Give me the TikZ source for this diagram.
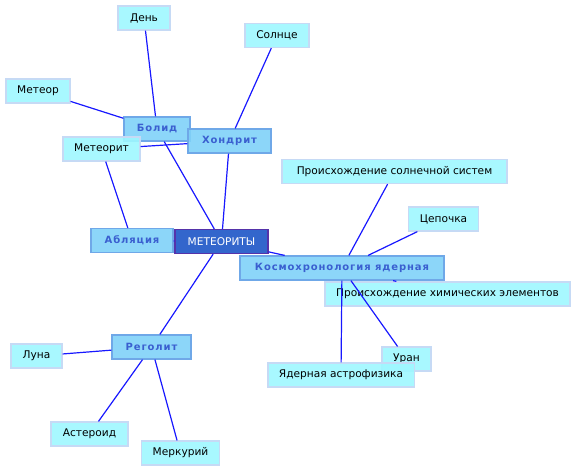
\documentclass[tikz,border=0pt]{standalone}
\usepackage{fontspec}
\setmainfont{DejaVu Sans}
\newfontfamily\spacedbold[LetterSpace=9]{DejaVu Sans Bold}
\usepackage{tikz}
\usepackage{xcolor}
\definecolor{Ink}{HTML}{000000}
\definecolor{LeafFill}{HTML}{9EF7FF}
\definecolor{LeafLine}{HTML}{C6DAF5}
\definecolor{TopicFill}{HTML}{80D2F8}
\definecolor{TopicLine}{HTML}{6FA8E8}
\definecolor{TopicText}{HTML}{3A5FD0}
\definecolor{RootFill}{HTML}{3366CC}
\definecolor{RootLine}{HTML}{5533AA}
\definecolor{Link}{HTML}{1818FF}

\begin{document}
\begin{tikzpicture}[
            x=1pt, y=-1pt,
            leaf/.style={
                rectangle,
                draw=LeafLine,
                fill=LeafFill,
                fill opacity=0.9,
                text opacity=1,
                line width=1.2pt,
                minimum height=24pt,
                inner xsep=11pt,
                font=\fontsize{10.6}{12}\selectfont,
                text=Ink
            },
            topic/.style={
                leaf,
                draw=TopicLine,
                fill=TopicFill,
                font=\fontsize{10}{12}\spacedbold,
                text=TopicText
            },
            root/.style={
                leaf,
                draw=RootLine,
                fill=RootFill,
                fill opacity=1,
                text=white
            },
            link/.style={line width=1.2pt, color=Link}
        ]
            \useasboundingbox (0,0) rectangle (576,472);

            % Central node and topics
            \node[root, minimum width=93pt] (meteority) at (221.5,241.5) {МЕТЕОРИТЫ};
            \node[topic, minimum width=66pt] (bolid) at (157,129) {Болид};
            \node[topic, minimum width=83pt] (hondrit) at (229.5,141) {Хондрит};
            \node[topic, minimum width=82pt] (ablyaciya) at (132,240.5) {Абляция};
            \node[topic, minimum width=204pt] (kosmo) at (342,268) {Космохронология ядерная};
            \node[topic, minimum width=79pt] (regolit) at (151.5,347) {Реголит};

            % Leaves
            \node[leaf, minimum width=52pt] (den) at (144,18) {День};
            \node[leaf, minimum width=64pt] (solnce) at (277,35.5) {Солнце};
            \node[leaf, minimum width=64pt] (meteor) at (38,91) {Метеор};
            \node[leaf, minimum width=77pt] (meteorit) at (101.5,149) {Метеорит};
            \node[leaf, minimum width=225pt] (solsys) at (394.5,171.5) {Происхождение солнечной систем};
            \node[leaf, minimum width=69pt] (cepochka) at (443.5,219) {Цепочка};
            \node[leaf, minimum width=243pt] (himel) at (447.5,294) {Происхождение химических элементов};
            \node[leaf, minimum width=49pt] (uran) at (406.5,359) {Уран};
            \node[leaf, minimum width=146pt] (astro) at (341,375) {Ядерная астрофизика};
            \node[leaf, minimum width=51pt] (luna) at (36.5,356) {Луна};
            \node[leaf, minimum width=77pt] (asteroid) at (89.5,434) {Астероид};
            \node[leaf, minimum width=77pt] (merkuriy) at (180.5,453) {Меркурий};

            % Links
            \draw[link] (meteority) -- (bolid);
            \draw[link] (meteority) -- (hondrit);
            \draw[link] (meteority) -- (ablyaciya);
            \draw[link] (meteority) -- (kosmo);
            \draw[link] (meteority) -- (regolit);
            \draw[link] (bolid) -- (den);
            \draw[link] (bolid) -- (meteor);
            \draw[link] (hondrit) -- (solnce);
            \draw[link] (hondrit) -- (meteorit);
            \draw[link] (ablyaciya) -- (meteorit);
            \draw[link] (kosmo) -- (solsys);
            \draw[link] (kosmo) -- (cepochka);
            \draw[link] (kosmo) -- (himel);
            \draw[link] (kosmo) -- (uran);
            \draw[link] (kosmo) -- (astro);
            \draw[link] (regolit) -- (luna);
            \draw[link] (regolit) -- (asteroid);
            \draw[link] (regolit) -- (merkuriy);
        \end{tikzpicture}
\end{document}
